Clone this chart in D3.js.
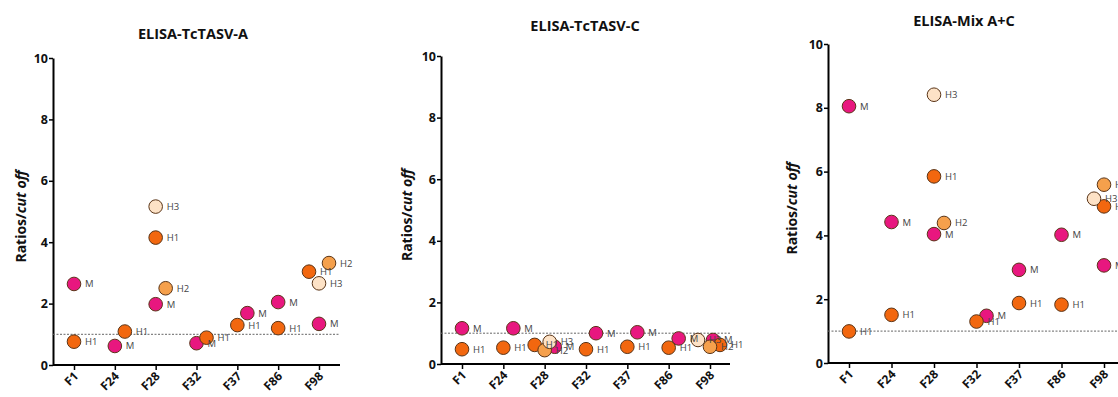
<!DOCTYPE html>
<html>
<head>
<meta charset="utf-8">
<script src="https://cdn.jsdelivr.net/npm/d3@7"></script>
<style>
body { margin: 0; background: #fff; }
svg { display: block; font-family: "Open Sans", sans-serif; }
</style>
</head>
<body>
<svg></svg>
<script>
// categorias y series
var cats = ['F1', 'F24', 'F28', 'F32', 'F37', 'F86', 'F98'];
var series = ['M', 'H1', 'H2', 'H3'];
var yTicks = [0, 2, 4, 6, 8, 10];
var cutoff = 1;
var titles = ['ELISA-TcTASV-A', 'ELISA-TcTASV-C', 'ELISA-Mix A+C'];

// valores por panel (null = sin dato)
var valA_M  = [2.64, 0.62, 1.98, 0.71, 1.69, 2.05, 1.34];
var valA_H1 = [0.76, 1.09, 4.15, 0.89, 1.30, 1.20, 3.04];
var valA_H2 = [null, null, 2.50, null, null, null, 3.32];
var valA_H3 = [null, null, 5.16, null, null, null, 2.66];

var valC_M  = [1.16, 1.16, 0.56, 1.00, 1.03, 0.83, 0.78];
var valC_H1 = [0.48, 0.53, 0.62, 0.48, 0.56, 0.53, 0.62];
var valC_H2 = [null, null, 0.45, null, null, null, 0.56];
var valC_H3 = [null, null, 0.72, null, null, null, 0.78];

var valX_M  = [8.05, 4.42, 4.04, 1.48, 2.92, 4.02, 3.06];
var valX_H1 = [0.99, 1.51, 5.85, 1.30, 1.88, 1.83, 4.91];
var valX_H2 = [null, null, 4.39, null, null, null, 5.59];
var valX_H3 = [null, null, 8.41, null, null, null, 5.15];

// desplazamiento horizontal de los puntos (px)
var dodgeA = {M: [0,0,0,0,10,0,0], H1: [0,10,0,10,0,0,-10], H2: [0,0,10,0,0,0,10], H3: [0,0,0,0,0,0,0]};
var dodgeC = {M: [0,10,10,10,10,10,3], H1: [0,0,-10,0,0,0,10], H2: [0,0,0,0,0,0,0], H3: [0,0,5,0,0,0,-12]};
var dodgeX = {M: [0,0,0,10,0,0,0], H1: [0,0,0,0,0,0,0], H2: [0,0,10,0,0,0,0], H3: [0,0,0,0,0,0,-10]};

var colores = {M: '#e8177f', H1: '#f2670f', H2: '#f5a04c', H3: '#fde2c6'};

var panels = [
	{title: titles[0], vals: {M: valA_M, H1: valA_H1, H2: valA_H2, H3: valA_H3}, dodge: dodgeA,
	 axX: 53, axEnd: 340, x0: 74, x1: 319, y0: 365, y1: 58, titleX: 193, titleY: 39, labX: 20},
	{title: titles[1], vals: {M: valC_M, H1: valC_H1, H2: valC_H2, H3: valC_H3}, dodge: dodgeC,
	 axX: 441, axEnd: 730, x0: 462, x1: 710, y0: 364, y1: 56, titleX: 585, titleY: 31, labX: 406},
	{title: titles[2], vals: {M: valX_M, H1: valX_H1, H2: valX_H2, H3: valX_H3}, dodge: dodgeX,
	 axX: 828, axEnd: 1140, x0: 849, x1: 1104, y0: 363, y1: 44, titleX: 964, titleY: 26, labX: 791}
];

var w = 1118, h = 397;
var svg = d3.select('svg').attr('width', w).attr('height', h);

panels.forEach(function(p){
	var g = svg.append('g');
	var x = d3.scalePoint().domain(cats).range([p.x0, p.x1]);
	var y = d3.scaleLinear().domain([0, 10]).range([p.y0, p.y1]);

	g.append('text')
		.attr('x', p.titleX).attr('y', p.titleY)
		.attr('text-anchor', 'middle')
		.style('font-weight', 'bold').style('font-size', '14.5px').attr('fill', '#111')
		.text(p.title);

	var lab = g.append('text')
		.attr('transform', 'translate(' + (p.labX + 6) + ',' + ((p.y0 + p.y1) / 2 + 5) + ') rotate(-90)')
		.attr('text-anchor', 'middle')
		.style('font-weight', 'bold').style('font-size', '14px').attr('fill', '#111');
	lab.append('tspan').text('Ratios/');
	lab.append('tspan').style('font-style', 'italic').text('cut off');

	// ejes
	var yAxis = g.append('g')
		.attr('transform', 'translate(' + p.axX + ',0)')
		.call(d3.axisLeft(y).tickValues(yTicks).tickSize(4).tickSizeOuter(0).tickPadding(1));
	var xAxis = g.append('g')
		.attr('transform', 'translate(0,' + p.y0 + ')')
		.call(d3.axisBottom(x).tickSize(5).tickSizeOuter(0).tickFormat(''));
	xAxis.select('.domain').attr('d', 'M' + p.axX + ',0H' + p.axEnd);
	[yAxis, xAxis].forEach(function(a){
		a.select('.domain').attr('stroke', '#000').attr('stroke-width', 2);
		a.selectAll('.tick line').attr('stroke', '#000').attr('stroke-width', 1.5);
	});
	yAxis.selectAll('.tick text')
		.style('font-family', '"Open Sans", sans-serif')
		.style('font-weight', 'bold').style('font-size', '12.5px').attr('fill', '#111');

	g.selectAll('.xlab')
		.data(cats)
		.enter()
		.append('text')
		.attr('transform', function(d){ return 'translate(' + (x(d) + 5) + ',' + (p.y0 + 12) + ') rotate(-45)'; })
		.attr('text-anchor', 'end')
		.style('font-weight', 'bold').style('font-size', '12px').attr('fill', '#111')
		.text(function(d){ return d; });

	// linea de corte
	g.append('line')
		.attr('x1', p.axX).attr('x2', p.axEnd)
		.attr('y1', y(cutoff)).attr('y2', y(cutoff))
		.attr('stroke', '#666').attr('stroke-width', 1).attr('stroke-dasharray', '2,1.5');

	// puntos
	var pts = [];
	series.forEach(function(s){
		p.vals[s].forEach(function(v, i){
			if (v === null) return;
			pts.push({s: s, c: cats[i], v: v, dx: p.dodge[s][i]});
		});
	});
	g.selectAll('.pt')
		.data(pts)
		.enter()
		.append('circle')
		.attr('cx', function(d){ return x(d.c) + d.dx; })
		.attr('cy', function(d){ return y(d.v); })
		.attr('r', 6.8)
		.attr('fill', function(d){ return colores[d.s]; })
		.attr('stroke', '#5a3518').attr('stroke-width', 1);
	g.selectAll('.ptlab')
		.data(pts)
		.enter()
		.append('text')
		.attr('x', function(d){ return x(d.c) + d.dx + 11; })
		.attr('y', function(d){ return y(d.v) + 3.5; })
		.style('font-size', '9.5px').attr('fill', '#444')
		.text(function(d){ return d.s; });
});
</script>
</body>
</html>
